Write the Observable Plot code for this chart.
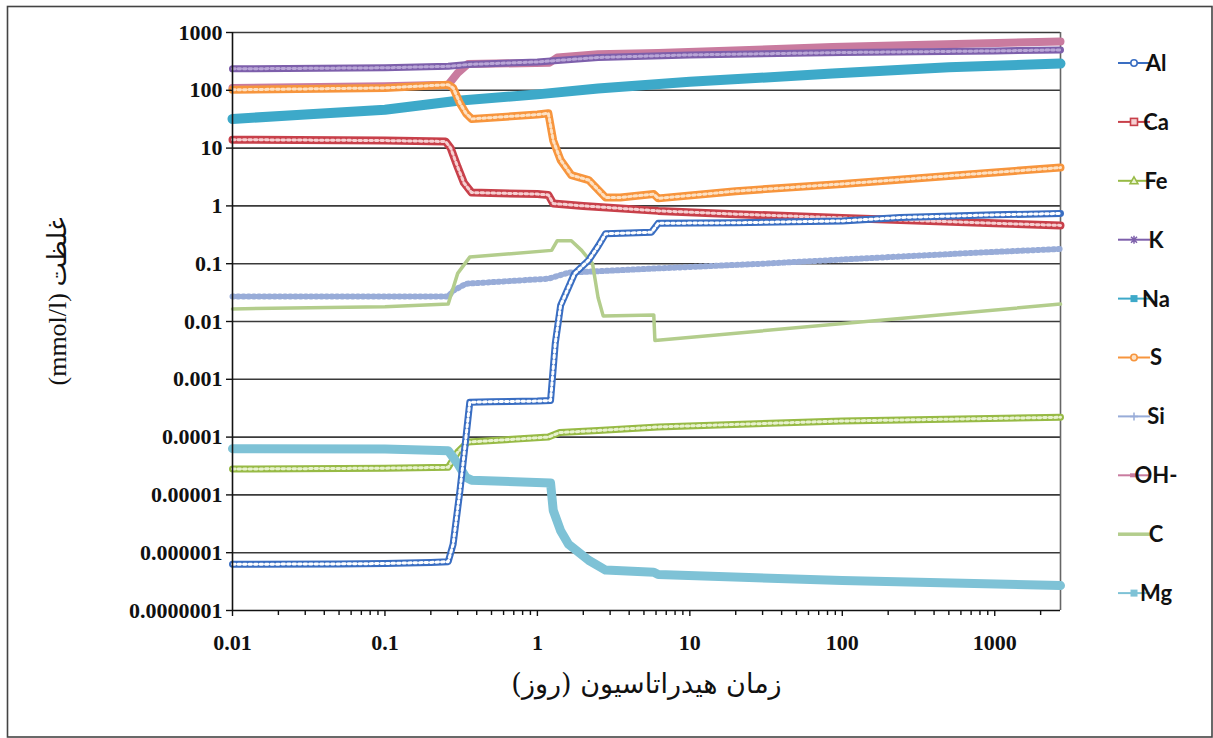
<!DOCTYPE html>
<html>
<head>
<meta charset="utf-8">
<script src="https://cdn.jsdelivr.net/npm/d3@7"></script>
<script src="https://cdn.jsdelivr.net/npm/@observablehq/plot@0.6"></script>
<style>
  html, body { margin: 0; padding: 0; background: #fff; }
  #chart { width: 1213px; height: 738px; }
</style>
</head>
<body>
<div id="chart"></div>
<script>
// ---------------- DATA ----------------
const xTicks = [0.01, 0.1, 1, 10, 100, 1000];
const xTickLabels = ["0.01", "0.1", "1", "10", "100", "1000"];
const yTicks = [1e-7, 1e-6, 1e-5, 1e-4, 1e-3, 0.01, 0.1, 1, 10, 100, 1000];
const yTickLabels = ["0.0000001", "0.000001", "0.00001", "0.0001", "0.001", "0.01", "0.1", "1", "10", "100", "1000"];
const seriesNames = ["Al", "Ca", "Fe", "K", "Na", "S", "Si", "OH-", "C", "Mg"];

const alT = [0.01, 0.05, 0.1, 0.2, 0.26, 0.28, 0.31, 0.34, 0.36, 0.5, 1.0, 1.22, 1.31, 1.42, 1.6, 1.75, 2.17, 2.5, 2.8, 4, 5.6, 6.2, 20, 100, 240, 1000, 2700];
const alV = [6.3e-7, 6.4e-7, 6.5e-7, 6.8e-7, 7e-7, 1.4e-6, 1.15e-5, 1e-4, 4e-4, 4.1e-4, 4.2e-4, 4.3e-4, 4.2e-3, 0.019, 0.039, 0.067, 0.115, 0.2, 0.33, 0.34, 0.35, 0.5, 0.51, 0.55, 0.63, 0.7, 0.74];

const caT = [0.01, 0.1, 0.25, 0.27, 0.30, 0.33, 0.37, 1.0, 1.18, 1.27, 2, 6.2, 20, 100, 1000, 2700];
const caV = [14, 13.5, 13, 10, 4.7, 2.5, 1.7, 1.6, 1.55, 1.1, 1.0, 0.82, 0.72, 0.62, 0.5, 0.46];

const feT = [0.01, 0.1, 0.26, 0.27, 0.3, 0.35, 1.18, 1.4, 2.5, 6.2, 100, 2700];
const feV = [2.8e-5, 2.9e-5, 3e-5, 3.5e-5, 5.5e-5, 8.2e-5, 1e-4, 1.2e-4, 1.3e-4, 1.5e-4, 1.9e-4, 2.2e-4];

const kT = [0.01, 0.1, 0.26, 0.35, 1, 2.5, 10, 100, 1000, 2700];
const kV = [235, 245, 260, 280, 310, 370, 410, 450, 480, 500];

const naT = [0.01, 0.03, 0.1, 0.3, 1, 2.5, 10, 86, 500, 2700];
const naV = [32, 38, 46, 66, 85, 107, 140, 195, 250, 290];

const sT = [0.01, 0.1, 0.26, 0.28, 0.31, 0.34, 0.37, 1.0, 1.18, 1.27, 1.42, 1.67, 2.17, 2.8, 3.5, 5.8, 6.2, 20, 100, 1000, 2700];
const sV = [102, 110, 125, 110, 60, 40, 32, 38, 40, 13.5, 6.2, 3.4, 2.8, 1.4, 1.4, 1.6, 1.35, 1.8, 2.4, 3.8, 4.6];

const siT = [0.01, 0.1, 0.26, 0.28, 0.34, 1.18, 1.6, 6.2, 30, 200, 1000, 2700];
const siV = [0.027, 0.027, 0.027, 0.034, 0.045, 0.055, 0.07, 0.083, 0.1, 0.13, 0.16, 0.18];

const ohT = [0.01, 0.1, 0.26, 0.3, 0.35, 1.2, 1.35, 2.5, 6.2, 86, 2700];
const ohV = [110, 118, 125, 200, 285, 300, 370, 420, 440, 560, 700];

const cT = [0.01, 0.1, 0.26, 0.3, 0.36, 1.24, 1.35, 1.67, 1.95, 2.3, 2.5, 2.7, 5.8, 5.9, 2700];
const cV = [0.0165, 0.018, 0.02, 0.068, 0.13, 0.17, 0.25, 0.25, 0.17, 0.1, 0.026, 0.0125, 0.013, 0.0047, 0.02];

const mgT = [0.01, 0.1, 0.26, 0.3, 0.34, 0.37, 1.22, 1.27, 1.42, 1.6, 2.17, 2.8, 5.8, 6.2, 100, 2700];
const mgV = [6.3e-5, 6.2e-5, 5.8e-5, 3.5e-5, 2e-5, 1.8e-5, 1.6e-5, 5.4e-6, 2.4e-6, 1.4e-6, 7.4e-7, 5e-7, 4.6e-7, 4.2e-7, 3.3e-7, 2.7e-7];

const xLabel = "زمان هیدراتاسیون (روز)";
const yLabel = "غلظت (mmol/l)";

// ---------------- STYLE ----------------
const style = {
  "Al":  {color: "#3a6ec2", w: 7,   inner: "#ffffff", mark: "circle"},
  "Ca":  {color: "#c8404a", w: 8,   inner: "#f6d0d2", mark: "square"},
  "Fe":  {color: "#97ba45", w: 7,   inner: "#e8f2cf", mark: "triangle"},
  "K":   {color: "#7d5fab", w: 7,   inner: "#b9a6d6", mark: "x"},
  "Na":  {color: "#3da9c9", w: 10,  inner: null,      mark: "fsquare"},
  "S":   {color: "#f7953d", w: 8,   inner: "#fde1c4", mark: "circle"},
  "Si":  {color: "#98acd8", w: 1.6, inner: null,      mark: "plus"},
  "OH-": {color: "#c97b9f", w: 8,   inner: null,      mark: "dash"},
  "C":   {color: "#b3cd8c", w: 3.5, inner: null,      mark: "none"},
  "Mg":  {color: "#7ec2d6", w: 9,   inner: null,      mark: "fsquare"}
};

const data = {
  "Al": [alT, alV], "Ca": [caT, caV], "Fe": [feT, feV], "K": [kT, kV], "Na": [naT, naV],
  "S": [sT, sV], "Si": [siT, siV], "OH-": [ohT, ohV], "C": [cT, cV], "Mg": [mgT, mgV]
};
const rows = seriesNames.flatMap(n => data[n][0].map((t, i) => ({name: n, t, v: data[n][1][i]})));

const drawOrder = ["OH-", "K", "Na", "S", "Ca", "Fe", "Si", "C", "Mg", "Al"];

const seriesMarks = drawOrder.flatMap(n => {
  const st = style[n];
  const d = rows.filter(r => r.name === n);
  const m = [Plot.line(d, {x: "t", y: "v", stroke: st.color, strokeWidth: st.w, strokeLinejoin: "round"})];
  if (st.inner) m.push(Plot.line(d, {x: "t", y: "v", stroke: st.inner, strokeWidth: 3, strokeDasharray: "2.5,3"}));
  if (n === "Si") m.push(Plot.line(d, {x: "t", y: "v", stroke: st.color, strokeWidth: 6, strokeDasharray: "1.2,4"}));
  return m;
});

const W = 1213, H = 738;
const plotLeft = 232, plotRight = 1060, plotTop = 32, plotBottom = 610;

const minorTicks = [];
for (let e = -2; e <= 3; e++) for (let k = 2; k <= 9; k++) { const v = k * Math.pow(10, e); if (v <= 2700) minorTicks.push(v); }

const chart = Plot.plot({
  width: W, height: H,
  marginLeft: plotLeft, marginRight: W - plotRight, marginTop: plotTop, marginBottom: H - plotBottom,
  style: {fontFamily: "'Liberation Serif', 'DejaVu Serif', serif", fontSize: "22px", fontWeight: "bold", color: "#111", background: "#fff"},
  x: {type: "log", domain: [0.01, 2700]},
  y: {type: "log", domain: [1e-7, 1000]},
  marks: [
    Plot.ruleY(yTicks.slice(1), {stroke: "#3a3a3a", strokeWidth: 1.6}),
    Plot.ruleX([2700], {stroke: "#666", strokeWidth: 1.6}),
    ...seriesMarks,
    Plot.ruleY([1e-7], {stroke: "#111", strokeWidth: 1.6}),
    Plot.ruleX([0.01], {stroke: "#111", strokeWidth: 1.6}),
    Plot.axisX({ticks: minorTicks, tickFormat: () => "", tickSize: 5, strokeWidth: 1.4, label: null}),
    Plot.axisX({ticks: xTicks, tickFormat: d => xTickLabels[xTicks.indexOf(d)], tickSize: 6, tickPadding: 18, strokeWidth: 1.4, label: null, fontSize: 22}),
    Plot.axisY({ticks: yTicks, tickFormat: d => yTickLabels[yTicks.indexOf(d)], tickSize: 6, tickPadding: 4, strokeWidth: 1.4, label: null, fontSize: 22}),
    Plot.text([xLabel], {frameAnchor: "bottom", dy: 82, textAnchor: "middle", fontSize: 27, fontWeight: "normal", fontFamily: "'DejaVu Serif', 'DejaVu Sans', serif"}),
    Plot.text([yLabel], {frameAnchor: "left", dx: -175, dy: -20, textAnchor: "middle", rotate: -90, fontSize: 26, fontWeight: "normal", fontFamily: "'Liberation Serif', 'DejaVu Sans', serif"})
  ]
});

document.getElementById("chart").appendChild(chart);

// ---------------- right-to-left titles, legend, chart border ----------------
const svg = d3.select(chart);
svg.selectAll("text").filter(function () { return this.textContent === xLabel || this.textContent === yLabel; })
  .attr("direction", "rtl").style("direction", "rtl").style("unicode-bidi", "embed");

svg.append("rect").attr("x", 7.5).attr("y", 6.5).attr("width", 1204.5).attr("height", 730.5)
  .attr("fill", "none").attr("stroke", "#444").attr("stroke-width", 1.6);

const lg = svg.append("g").attr("font-family", "Lato, 'Open Sans', sans-serif").attr("font-weight", "bold").attr("font-size", 22);
seriesNames.forEach((n, i) => {
  const st = style[n];
  const y = 63 + i * 58.9;
  const g = lg.append("g").attr("transform", `translate(0,${y})`);
  g.append("line").attr("x1", 1118).attr("x2", 1150).attr("y1", 0).attr("y2", 0).attr("stroke", st.color).attr("stroke-width", n === "C" ? 3.5 : 2);
  const cx = 1134;
  if (st.mark === "circle") g.append("circle").attr("cx", cx).attr("cy", 0).attr("r", 3.2).attr("fill", st.inner).attr("stroke", st.color).attr("stroke-width", 1.6);
  if (st.mark === "square") g.append("rect").attr("x", cx - 3.5).attr("y", -3.5).attr("width", 7).attr("height", 7).attr("fill", st.inner).attr("stroke", st.color).attr("stroke-width", 1.6);
  if (st.mark === "fsquare") g.append("rect").attr("x", cx - 3.5).attr("y", -3.5).attr("width", 7).attr("height", 7).attr("fill", st.color);
  if (st.mark === "triangle") g.append("path").attr("d", `M${cx},-4L${cx + 4},3L${cx - 4},3Z`).attr("fill", st.inner).attr("stroke", st.color).attr("stroke-width", 1.5);
  if (st.mark === "x") g.append("path").attr("d", `M${cx - 3},-3L${cx + 3},3M${cx - 3},3L${cx + 3},-3M${cx},-4V4`).attr("stroke", st.color).attr("stroke-width", 1.5);
  if (st.mark === "plus") g.append("path").attr("d", `M${cx - 4},0H${cx + 4}M${cx},-4V4`).attr("stroke", st.color).attr("stroke-width", 1.5);
  if (st.mark === "dash") g.append("path").attr("d", `M${cx - 4},0H${cx + 4}`).attr("stroke", st.color).attr("stroke-width", 4);
  g.append("text").attr("x", 1156).attr("y", 0).attr("dy", "0.36em").attr("fill", "#111").text(n);
});
</script>
</body>
</html>
